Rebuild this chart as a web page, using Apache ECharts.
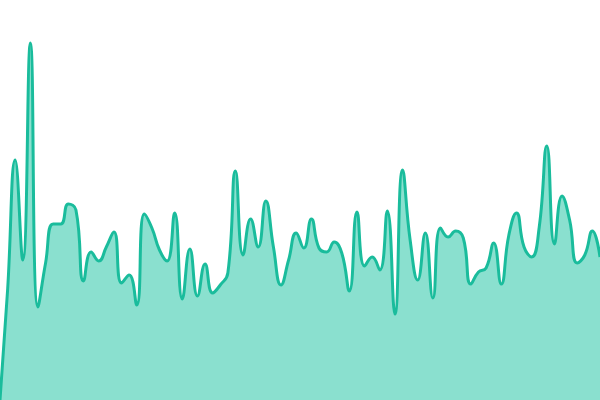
<!DOCTYPE html>
<html>
<head>
<meta charset="utf-8">
<script src="https://cdn.jsdelivr.net/npm/echarts@6/dist/echarts.min.js"></script>
<style>html,body{margin:0;padding:0;background:#fff}#c{width:600px;height:400px}</style>
</head>
<body>
<div id="c"></div>
<script>
const categories = Array.from({length: 80}, (_, i) => String(i));
const values = [
  0, 110, 240, 140, 357, 93, 137, 176, 176, 196,
  190, 119, 148, 139, 153, 168, 117, 125, 95, 186,
  172, 150, 139, 187, 101, 151, 104, 136, 107, 115,
  127, 229, 145, 181, 153, 199, 153, 115, 140, 167,
  152, 181, 152, 148, 158, 147, 109, 188, 134, 143,
  130, 189, 86, 230, 160, 120, 167, 102, 172, 163,
  169, 162, 116, 128, 132, 157, 116, 165, 187, 153,
  143, 173, 254, 156, 204, 180, 137, 145, 169, 143
];
const chart = echarts.init(document.getElementById('c'));
chart.setOption({
  animation: false,
  grid: {left: 0, right: 0, top: 0, bottom: 0},
  xAxis: {type: 'category', data: categories, boundaryGap: false, show: false},
  yAxis: {type: 'value', min: 0, max: 400, show: false},
  series: [{
    type: 'line',
    data: values,
    smooth: true,
    symbol: 'none',
    lineStyle: {color: '#1abc9c', width: 3},
    areaStyle: {color: '#8ae0cf', opacity: 1}
  }]
});
</script>
</body>
</html>
